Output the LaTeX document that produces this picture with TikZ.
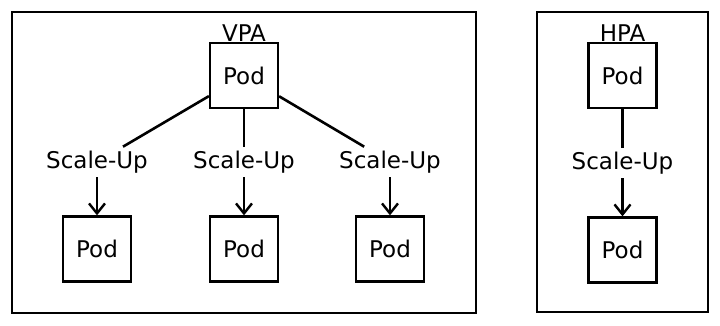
\documentclass[tikz,border=0pt]{standalone}
\usepackage{fontspec}
\setmainfont{DejaVu Sans}
\usepackage{tikz}
\usetikzlibrary{positioning,arrows.meta}
\tikzset{
  frame/.style={draw,line width=2.2pt,inner sep=0pt},
  pod/.style={draw,line width=2.2pt,minimum width=68pt,minimum height=65pt,inner sep=0pt,font=\fontsize{23}{25}\selectfont},
  lbl/.style={inner sep=4pt,font=\fontsize{23}{25}\selectfont},
  ttl/.style={inner sep=0.5pt,font=\fontsize{23}{25}\selectfont},
  conn/.style={line width=2.6pt},
  arr/.style={-{Straight Barb[length=10pt,width=16pt,line width=2.4pt]},line width=2.6pt}
}
\begin{document}
\begin{tikzpicture}[x=1pt,y=1pt]
\useasboundingbox (0,0) rectangle (720,325);
% frames
\node[frame,minimum width=464pt,minimum height=301pt] (vframe) at (244,162.5) {};
\node[frame,minimum width=171pt,minimum height=300pt] (hframe) at (622.5,163) {};

% VPA
\node[pod] (vtop) at (244,249.5) {Pod};
\node[ttl,above=0pt of vtop] (vpa) {VPA};
\node[lbl] (vs1) at (97,163) {Scale-Up};
\node[lbl] (vs2) at (244,163) {Scale-Up};
\node[lbl] (vs3) at (390,163) {Scale-Up};
\node[pod,below=38pt of vs1] (vp1) {Pod};
\node[pod,below=38pt of vs2] (vp2) {Pod};
\node[pod,below=38pt of vs3] (vp3) {Pod};

\draw[conn] (vtop) -- (vs1);
\draw[conn] (vtop) -- (vs2);
\draw[conn] (vtop) -- (vs3);
\draw[arr] (vs1) -- (vp1);
\draw[arr] (vs2) -- (vp2);
\draw[arr] (vs3) -- (vp3);

% HPA
\node[pod] (htop) at (622.5,249.5) {Pod};
\node[ttl,above=0pt of htop] (hpa) {HPA};
\node[lbl] (hs) at (622.5,162) {Scale-Up};
\node[pod,below=38pt of hs] (hp) {Pod};

\draw[conn] (htop) -- (hs);
\draw[arr] (hs) -- (hp);
\end{tikzpicture}
\end{document}
